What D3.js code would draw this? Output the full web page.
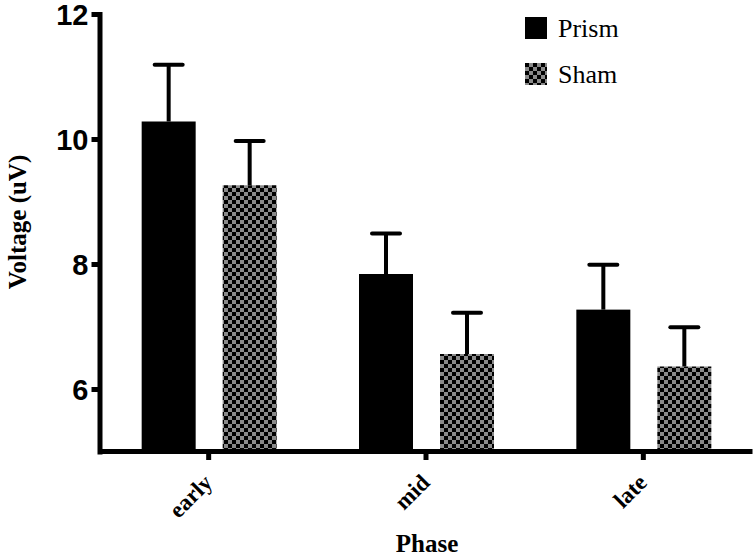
<!DOCTYPE html>
<html lang="en">
<head>
<meta charset="utf-8">
<title>Voltage by phase</title>
<script src="https://cdnjs.cloudflare.com/ajax/libs/d3/7.8.5/d3.min.js"></script>
<style>
  body { margin: 0; background: #fff; }
  .chart text { fill: #000; font-family: "Liberation Serif", serif; }
  .chart .y-axis text { font-family: "Liberation Sans", sans-serif; font-weight: bold; font-size: 29px; }
  .chart .x-axis text { font-weight: bold; font-size: 23px; }
  .chart .title { font-weight: bold; font-size: 25px; }
  .chart .legend text { font-size: 26px; }
</style>
</head>
<body>
<div class="chart" id="chart"></div>
<script>
"use strict"

// data
var phases = ["early", "mid", "late"];
var seriesNames = ["Prism", "Sham"];
var prismMeans = [10.28, 7.84, 7.27];
var prismUpper = [11.19, 8.49, 7.99];
var shamMeans = [9.26, 6.56, 6.36];
var shamUpper = [9.97, 7.22, 6.99];
var yTicks = [6, 8, 10, 12];

var W = 756, H = 556;

var svg = d3.select("#chart").append("svg")
  .attr("width", W)
  .attr("height", H);

// checkerboard for Sham
var pat = svg.append("defs").append("pattern")
  .attr("id", "checker")
  .attr("patternUnits", "userSpaceOnUse")
  .attr("width", 8).attr("height", 8);
pat.append("rect").attr("width", 8).attr("height", 8).attr("fill", "#8a8a8a");
pat.append("rect").attr("width", 4).attr("height", 4).attr("fill", "#000");
pat.append("rect").attr("x", 4).attr("y", 4).attr("width", 4).attr("height", 4).attr("fill", "#000");

// scales
var x = d3.scaleBand().domain(phases).range([100, 752]).padding(0);
var y = d3.scaleLinear().domain([5, 12]).range([451.5, 14]);

var series = [
  {name: seriesNames[0], means: prismMeans, upper: prismUpper, fill: "#000", dx: -67},
  {name: seriesNames[1], means: shamMeans, upper: shamUpper, fill: "url(#checker)", dx: 14}
];
var barW = 54;

// bars
series.forEach(function(s) {
  var g = svg.append("g");
  var rows = phases.map(function(p, i) { return {p: p, m: s.means[i], u: s.upper[i]}; });
  var cx = d => x(d.p) + x.bandwidth() / 2 + s.dx + barW / 2;

  g.selectAll("rect").data(rows).enter().append("rect")
    .attr("x", d => cx(d) - barW / 2)
    .attr("y", d => y(d.m))
    .attr("width", barW)
    .attr("height", d => y(5) - y(d.m))
    .attr("fill", s.fill);

  // error bars (upper only)
  g.selectAll("line.v").data(rows).enter().append("line")
    .attr("class", "v")
    .attr("x1", cx).attr("x2", cx)
    .attr("y1", d => y(d.m))
    .attr("y2", d => y(d.u))
    .attr("stroke", "#000").attr("stroke-width", 4);

  g.selectAll("line.c").data(rows).enter().append("line")
    .attr("class", "c")
    .attr("x1", d => cx(d) - 14)
    .attr("x2", d => cx(d) + 14)
    .attr("y1", d => y(d.u))
    .attr("y2", d => y(d.u))
    .attr("stroke", "#000").attr("stroke-width", 4).attr("stroke-linecap", "round");
});

// axes
var yAxis = svg.append("g")
  .attr("class", "y-axis")
  .attr("transform", "translate(99.5,0)")
  .call(d3.axisLeft(y).tickValues(yTicks).tickFormat(d3.format("d"))
    .tickSize(8).tickSizeOuter(0).tickPadding(3));
yAxis.select(".domain").attr("stroke-width", 5).attr("stroke-linecap", "square");
yAxis.selectAll(".tick line").attr("stroke-width", 5);
yAxis.selectAll("text").attr("dy", "0.36em");

var xAxis = svg.append("g")
  .attr("class", "x-axis")
  .attr("transform", "translate(0,451)")
  .call(d3.axisBottom(x).tickSize(9).tickSizeOuter(0));
xAxis.select(".domain").attr("stroke-width", 5);
xAxis.selectAll(".tick line").attr("stroke-width", 5);
xAxis.selectAll("text")
  .attr("text-anchor", "end")
  .attr("x", 0).attr("y", 0).attr("dy", 0)
  .attr("transform", "translate(5,33) rotate(-45)");

// axis titles
svg.append("text")
  .attr("class", "title")
  .attr("x", 427).attr("y", 552)
  .attr("text-anchor", "middle")
  .text("Phase");

svg.append("text")
  .attr("class", "title")
  .attr("transform", "translate(26,222) rotate(-90)")
  .attr("text-anchor", "middle")
  .text("Voltage (uV)");

// legend
var leg = svg.append("g").attr("class", "legend")
  .selectAll("g").data(series).enter().append("g")
  .attr("transform", (d, i) => "translate(525," + (17 + i * 46) + ")");
leg.append("rect").attr("width", 22).attr("height", 22).attr("fill", d => d.fill);
leg.append("text")
  .attr("x", 33).attr("y", 20)
  .text(d => d.name);
</script>
</body>
</html>
